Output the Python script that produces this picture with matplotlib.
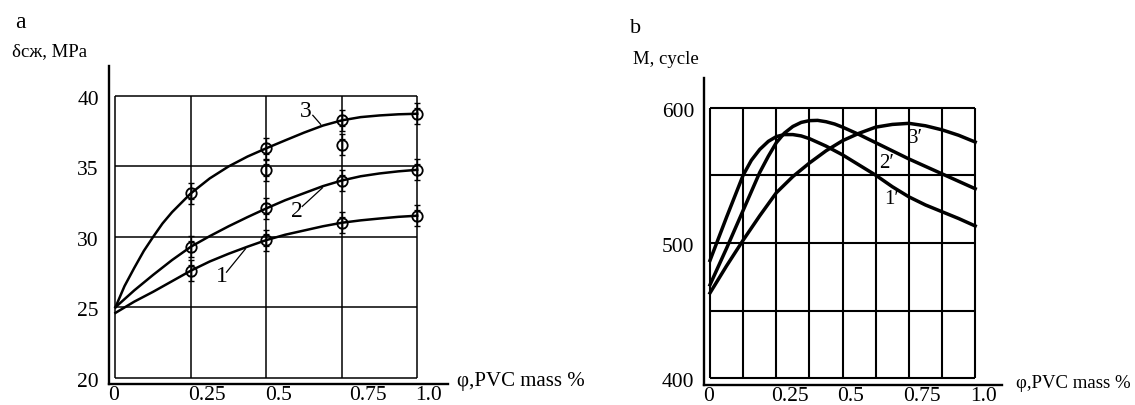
import matplotlib
matplotlib.use("Agg")
import matplotlib.pyplot as plt
import matplotlib.transforms as mtransforms

plt.rcParams['font.family'] = ['Liberation Serif', 'DejaVu Serif']

# ---- panel a: compressive strength vs PVC content ----
phi_pts = [0.25, 0.5, 0.75, 1.0]
sigma1_pts = [27.6, 29.77, 31.0, 31.5]
sigma2_pts = [29.3, 32.02, 34.0, 34.76]
sigma3_pts = [33.09, 36.29, 38.27, 38.74]
extra_phi = [0.5, 0.75]
extra_sigma = [34.74, 36.54]
sigma_err = 0.75
sigma_err_inner = 0.4

# points
phi_a1 = [0, 0.0625, 0.125, 0.1875, 0.25, 0.3125, 0.375, 0.4375, 0.5, 0.5625, 0.625, 0.6875, 0.75, 0.8125, 0.875, 0.9375, 1.0]
sigma1_curve = [24.6, 25.4, 26.1, 26.85, 27.6, 28.25, 28.8, 29.3, 29.77, 30.15, 30.45, 30.75, 31.0, 31.17, 31.3, 31.42, 31.5]
sigma2_curve = [25.0, 26.2, 27.3, 28.35, 29.3, 30.05, 30.75, 31.4, 32.02, 32.6, 33.1, 33.6, 34.0, 34.3, 34.5, 34.65, 34.76]
phi_a3 = [0, 0.03, 0.0625, 0.094, 0.125, 0.156, 0.1875, 0.22, 0.25, 0.3125, 0.375, 0.4375, 0.5, 0.5625, 0.625, 0.6875, 0.75, 0.8125, 0.875, 0.9375, 1.0]
sigma3_curve = [25.0, 26.5, 27.8, 29.0, 30.0, 30.95, 31.75, 32.45, 33.09, 34.15, 35.0, 35.7, 36.29, 36.85, 37.4, 37.9, 38.27, 38.5, 38.62, 38.7, 38.74]

grid_x_a = [0, 0.25, 0.5, 0.75, 1.0]
grid_y_a = [20, 25, 30, 35, 40]
ytick_a = [20, 25, 30, 35, 40]
xtick_a_pos = [-0.005, 0.303, 0.541, 0.836, 1.038]
xtick_labels = ['0', '0.25', '0.5', '0.75', '1.0']

# ---- panel b: number of cycles vs PVC content ----
phi_b1 = [0, 0.0625, 0.125, 0.156, 0.1875, 0.22, 0.25, 0.28, 0.3125, 0.344, 0.375, 0.4375, 0.5, 0.5625, 0.625, 0.6875, 0.75, 0.8125, 0.875, 0.9375, 1.0]
M1 = [487, 519, 550, 561, 569, 575, 578.5, 580, 580, 579, 577, 571.5, 565, 557.5, 550, 541.5, 534, 528, 523, 518, 512.5]
phi_b2 = [0, 0.0625, 0.125, 0.1875, 0.22, 0.25, 0.28, 0.3125, 0.344, 0.375, 0.406, 0.4375, 0.47, 0.5, 0.5625, 0.625, 0.6875, 0.75, 0.8125, 0.875, 0.9375, 1.0]
M2 = [469, 496, 524, 552, 564, 574, 581, 586, 589, 590.3, 590.5, 589.5, 587.8, 585.5, 580, 574, 568, 562, 556.5, 551, 545.5, 540]
phi_b3 = [0, 0.0625, 0.125, 0.1875, 0.25, 0.3125, 0.375, 0.4375, 0.5, 0.5625, 0.625, 0.6875, 0.75, 0.8125, 0.875, 0.9375, 1.0]
M3 = [463, 483, 502, 520, 537, 549, 559, 568, 575.5, 581, 585.5, 587.5, 588.3, 586.5, 583.5, 579.5, 574.5]

grid_x_b = [0, 0.125, 0.25, 0.375, 0.5, 0.625, 0.75, 0.875, 1.0]
grid_y_b = [400, 450, 500, 550, 600]
ytick_b = [400, 500, 600]
xtick_b_pos = [-0.006, 0.302, 0.53, 0.80, 1.03]

W, H = 1135, 405
fig = plt.figure(figsize=(W / 100, H / 100), dpi=100)


def px_rect(l, t, r, b):
    return [l / W, 1 - b / H, (r - l) / W, (b - t) / H]


def setup(ax, xlim, ylim, gx, gy, yt, xt_pos, grid_lw):
    ax.set_xlim(*xlim)
    ax.set_ylim(*ylim)
    for s in ['top', 'right']:
        ax.spines[s].set_visible(False)
    for s in ['left', 'bottom']:
        ax.spines[s].set_linewidth(1.7)
    ax.vlines(gx, gy[0], gy[-1], colors='black', lw=grid_lw, zorder=1)
    ax.hlines(gy, gx[0], gx[-1], colors='black', lw=grid_lw, zorder=1)
    ax.set_yticks(yt)
    ax.set_yticklabels([str(v) for v in yt])
    ax.set_xticks(xt_pos)
    ax.set_xticklabels(xtick_labels)
    ax.tick_params(axis='both', length=0, labelsize=15.5)
    ax.tick_params(axis='y', pad=7)
    ax.tick_params(axis='x', pad=1.5)
    off = mtransforms.ScaledTranslation(0, -2 / 100, fig.dpi_scale_trans)
    for lab in ax.get_yticklabels():
        lab.set_transform(lab.get_transform() + off)


# panel a
ax_a = fig.add_axes(px_rect(108.5, 66, 447.7, 384.3))
setup(ax_a, (-0.023, 1.101), (19.53, 42.13), grid_x_a, grid_y_a, ytick_a, xtick_a_pos, 1.1)
for xs, ys in [(phi_a1, sigma1_curve), (phi_a1, sigma2_curve), (phi_a3, sigma3_curve)]:
    ax_a.plot(xs, ys, color='black', lw=1.8, zorder=2, solid_joinstyle='round')
for ys_x, ys in [(phi_pts, sigma1_pts), (phi_pts, sigma2_pts), (phi_pts, sigma3_pts), (extra_phi, extra_sigma)]:
    ax_a.errorbar(ys_x, ys, yerr=sigma_err, fmt='none', ecolor='black', elinewidth=1.0,
                  capsize=2.5, capthick=1.0, zorder=3)
    ax_a.errorbar(ys_x, ys, yerr=sigma_err_inner, fmt='none', ecolor='black', elinewidth=1.0,
                  capsize=2.0, capthick=0.9, zorder=3)
    ax_a.plot(ys_x, ys, 'o', mfc='none', mec='black', mew=1.3, ms=7.5, zorder=4)

# curve labels with leader lines
ax_a.text(0.631, 38.93, '3', fontsize=17, ha='center', va='center')
ax_a.plot([0.654, 0.68], [38.63, 37.99], color='black', lw=0.9)
ax_a.text(0.601, 31.82, '2', fontsize=17, ha='center', va='center')
ax_a.plot([0.619, 0.686], [32.16, 33.48], color='black', lw=0.9)
ax_a.text(0.353, 27.18, '1', fontsize=17, ha='center', va='center')
ax_a.plot([0.368, 0.431], [27.49, 29.15], color='black', lw=0.9)

# panel b
ax_b = fig.add_axes(px_rect(704, 78, 1001.7, 385))
setup(ax_b, (-0.0226, 1.1), (395.0, 621.8), grid_x_b, grid_y_b, ytick_b, xtick_b_pos, 1.5)
for xs, ys in [(phi_b1, M1), (phi_b2, M2), (phi_b3, M3)]:
    ax_b.plot(xs, ys, color='black', lw=2.5, zorder=2, solid_joinstyle='round')
ax_b.text(0.686, 532, '1\u2032', fontsize=15, ha='center', va='center')
ax_b.text(0.667, 558.8, '2\u2032', fontsize=15, ha='center', va='center')
ax_b.text(0.774, 577, '3\u2032', fontsize=15, ha='center', va='center')

# panel letters and axis titles
fig.text(20 / W, 1 - 22 / H, 'a', fontsize=17, ha='center', va='center')
fig.text(12 / W, 1 - 52 / H, '\u03b4\u0441\u0436, MPa', fontsize=13.5, ha='left', va='center')
fig.text(456.7 / W, 1 - 381.7 / H, '\u03c6,PVC mass %', fontsize=15, ha='left', va='center')
fig.text(635.5 / W, 1 - 28.5 / H, 'b', fontsize=16, ha='center', va='center')
fig.text(632.7 / W, 1 - 60 / H, 'M, cycle', fontsize=13.5, ha='left', va='center')
fig.text(1015.7 / W, 1 - 383.3 / H, '\u03c6,PVC mass %', fontsize=13.5, ha='left', va='center')

fig.savefig('out.png', dpi=100)
